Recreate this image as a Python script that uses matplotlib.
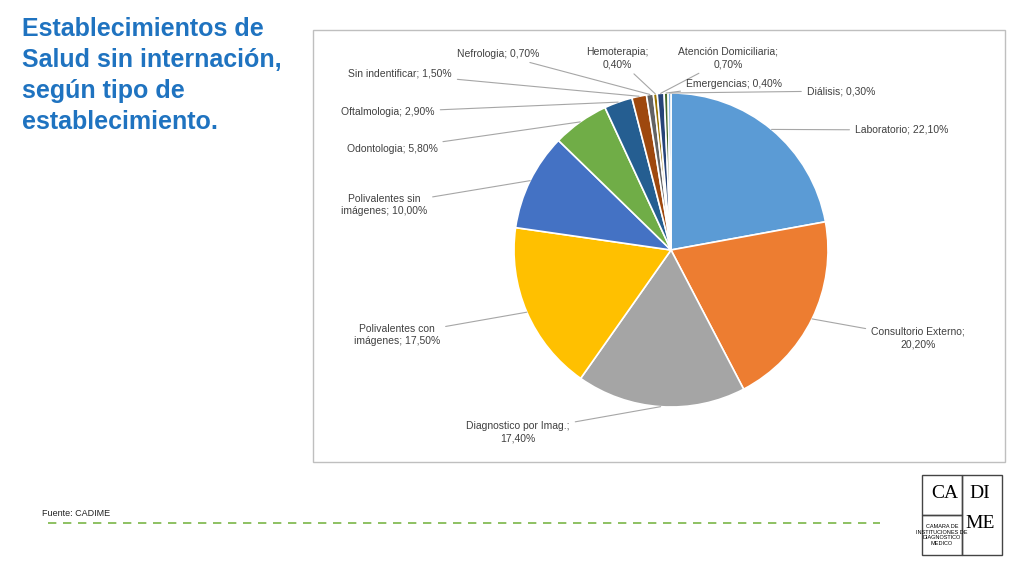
import matplotlib
matplotlib.use("Agg")
import matplotlib.pyplot as plt
import numpy as np
from matplotlib.patches import Rectangle

labels = ["Laboratorio", "Consultorio Externo", "Diagnostico por Imag.", "Polivalentes con imágenes",
          "Polivalentes sin imágenes", "Odontologia", "Oftalmologia", "Sin indentificar", "Nefrologia",
          "Hemoterapia", "Atención Domiciliaria", "Emergencias", "Diálisis"]
values = [22.1, 20.2, 17.4, 17.5, 10.0, 5.8, 2.9, 1.5, 0.7, 0.4, 0.7, 0.4, 0.3]
label_texts = ["Laboratorio; 22,10%", "Consultorio Externo;\n20,20%", "Diagnostico por Imag.;\n17,40%",
               "Polivalentes con\nimágenes; 17,50%", "Polivalentes sin\nimágenes; 10,00%",
               "Odontologia; 5,80%", "Oftalmologia; 2,90%", "Sin indentificar; 1,50%",
               "Nefrologia; 0,70%", "Hemoterapia;\n0,40%", "Atención Domiciliaria;\n0,70%",
               "Emergencias; 0,40%", "Diálisis; 0,30%"]
colors = ["#5B9BD5", "#ED7D31", "#A5A5A5", "#FFC000", "#4472C4", "#70AD47", "#255E91",
          "#9E480E", "#636363", "#997300", "#264478", "#43682B", "#7CAFDD"]
label_pos = [(855, 130, "left"), (918, 338, "center"), (518, 432, "center"), (397, 335, "center"),
             (384, 205, "center"), (392, 149, "center"), (388, 112, "center"), (400, 74, "center"),
             (498, 54, "center"), (617, 58, "center"), (728, 58, "center"), (734, 84, "center"),
             (841, 91, "center")]

W, H = 1024, 576
fig = plt.figure(figsize=(W/100, H/100), dpi=100)
plt.rcParams["font.family"] = "Liberation Sans"

fig.patches.append(Rectangle((313/W, 1-462/H), 692/W, 432/H, transform=fig.transFigure,
                             fill=False, edgecolor="#BFBFBF", lw=1))

cx, cy, r = 671, 250, 157
ax = fig.add_axes([(cx-r)/W, (H-cy-r)/H, 2*r/W, 2*r/H])
wedges, _ = ax.pie(values, colors=colors, startangle=90, counterclock=False,
                   wedgeprops=dict(edgecolor="white", linewidth=1.2), radius=1)
ax.set_xlim(-1, 1); ax.set_ylim(-1, 1); ax.set_aspect("equal"); ax.axis("off")

for w, txt, (lx, ly, ha) in zip(wedges, label_texts, label_pos):
    ang = np.deg2rad((w.theta1 + w.theta2) / 2)
    px, py = np.cos(ang), np.sin(ang)
    ax.annotate(txt, xy=(px, py), xycoords="data", xytext=(lx/W, 1-ly/H), textcoords="figure fraction",
                ha=ha, va="center", fontsize=7.5, color="#404040", family="Liberation Sans",
                linespacing=1.3,
                arrowprops=dict(arrowstyle="-", color="#A6A6A6", lw=0.8, shrinkA=2, shrinkB=0))

fig.text(22/W, 1-17/H, "Establecimientos de\nSalud sin internación,\nsegún tipo de\nestablecimiento.",
         ha="left", va="top", fontsize=18, fontweight="bold", color="#1F73C0", linespacing=1.36)

fig.text(42/W, 1-514/H, "Fuente: CADIME", fontsize=6.5, va="center", color="#222222")
fig.add_artist(plt.Line2D([48/W, 880/W], [1-523/H, 1-523/H], transform=fig.transFigure,
                          color="#7AB648", lw=1.2, ls=(0, (5, 4))))

for (x0, y0, w0, h0) in [(922, 475, 40, 40), (962, 475, 40, 80), (922, 515, 40, 40)]:
    fig.patches.append(Rectangle((x0/W, 1-(y0+h0)/H), w0/W, h0/H, transform=fig.transFigure,
                                 fill=False, edgecolor="#444444", lw=1))
fig.text(945/W, 1-494/H, "CA", fontsize=14, family="Liberation Serif", ha="center", va="center")
fig.text(980/W, 1-494/H, "DI", fontsize=14, family="Liberation Serif", ha="center", va="center")
fig.text(980/W, 1-524/H, "ME", fontsize=14, family="Liberation Serif", ha="center", va="center")
fig.text(942/W, 1-535/H, "CAMARA DE\nINSTITUCIONES DE\nDIAGNOSTICO\nMEDICO", fontsize=4,
         ha="center", va="center", linespacing=1.1)

fig.savefig("out.png", dpi=100)
